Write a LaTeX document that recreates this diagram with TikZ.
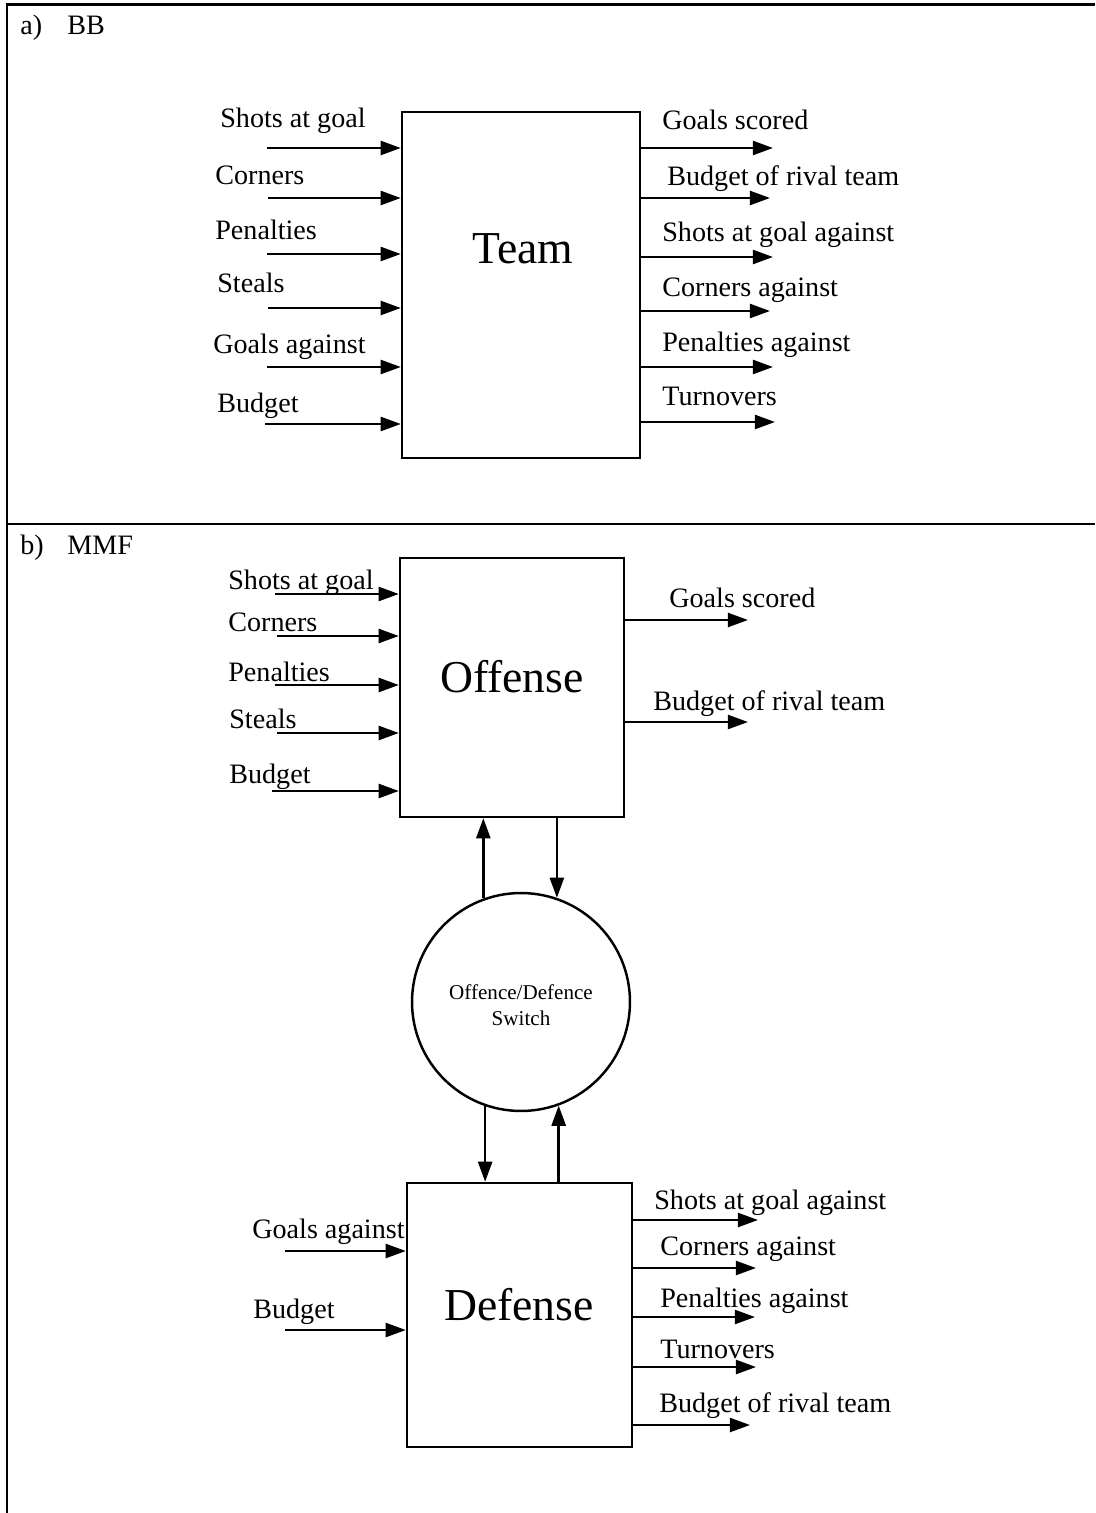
\documentclass[tikz,border=0pt]{standalone}
\usepackage{fontspec}
\setmainfont{Liberation Serif}
\usetikzlibrary{arrows.meta}

\begin{document}
\begin{tikzpicture}[
  x=0.02cm, y=-0.02cm,
  arr/.style={line width=1.4pt,-{Triangle[length=11.5pt,width=8pt]}},
  rarr/.style={line width=1.4pt,{Triangle[length=11.5pt,width=8pt]}-},
  blk/.style={draw,line width=1.4pt,inner sep=0pt},
  lbl/.style={anchor=base west,inner sep=0pt,font=\fontsize{16}{19}\selectfont},
  big/.style={anchor=base,inner sep=0pt,font=\fontsize{26}{30}\selectfont},
  frame/.style={line width=1.7pt},
]
  \useasboundingbox (0,0) rectangle (1095,1513);

  % table lines
  \draw[frame] (1095,5) -- (7,5) -- (7,1513);
  \draw[line width=1pt] (7,524) -- (1095,524);
  \draw[frame] (7,524) -- (200,524);
  \draw[frame] (907,524) -- (1095,524);

  \node[lbl] (pa) at (20,35) {a)};
  \node[lbl] (bb) at (67,35) {BB};
  \node[lbl] (pb) at (20,554) {b)};
  \node[lbl] (mmf) at (67,554) {MMF};

  % a) black box
  \node[blk,minimum width=4.76cm,minimum height=6.92cm] (team) at (521,285) {};
  \node[big] (teamtxt) at (523,264) {Team};

  \node[lbl] (ti1) at (220,128) {Shots at goal};
  \node[lbl] (ti2) at (215,185) {Corners};
  \node[lbl] (ti3) at (215,240) {Penalties};
  \node[lbl] (ti4) at (217,293) {Steals};
  \node[lbl] (ti5) at (213,354) {Goals against};
  \node[lbl] (ti6) at (217,413) {Budget};
  \draw[arr] (267,148) coordinate (ta1) -- (ta1 -| team.west);
  \draw[arr] (268,198) coordinate (ta2) -- (ta2 -| team.west);
  \draw[arr] (267,254) coordinate (ta3) -- (ta3 -| team.west);
  \draw[arr] (268,308) coordinate (ta4) -- (ta4 -| team.west);
  \draw[arr] (267,367) coordinate (ta5) -- (ta5 -| team.west);
  \draw[arr] (265,424) coordinate (ta6) -- (ta6 -| team.west);

  \node[lbl] (to1) at (662,130) {Goals scored};
  \node[lbl] (to2) at (667,186) {Budget of rival team};
  \node[lbl] (to3) at (662,242) {Shots at goal against};
  \node[lbl] (to4) at (662,297) {Corners against};
  \node[lbl] (to5) at (662,352) {Penalties against};
  \node[lbl] (to6) at (662,405) {Turnovers};
  \draw[rarr] (773,148) coordinate (tb1) -- (tb1 -| team.east);
  \draw[rarr] (770,198) coordinate (tb2) -- (tb2 -| team.east);
  \draw[rarr] (773,257) coordinate (tb3) -- (tb3 -| team.east);
  \draw[rarr] (770,311) coordinate (tb4) -- (tb4 -| team.east);
  \draw[rarr] (773,367) coordinate (tb5) -- (tb5 -| team.east);
  \draw[rarr] (775,422) coordinate (tb6) -- (tb6 -| team.east);

  % b) offense / switch / defense
  \node[blk,minimum width=4.48cm,minimum height=5.18cm] (off) at (512,687.5) {};
  \node[big] (offtxt) at (512,692) {Offense};
  \node[blk,circle,minimum size=4.36cm] (sw) at (521,1002) {};
  \node[align=center,inner sep=0pt,font=\fontsize{12}{15}\selectfont] (swtxt) at (521,1005) {Offence/Defence\\Switch};
  \node[blk,minimum width=4.5cm,minimum height=5.28cm] (def) at (519.5,1315) {};
  \node[big] (deftxt) at (519,1320) {Defense};

  \node[lbl] (oi1) at (228,589) {Shots at goal};
  \node[lbl] (oi2) at (228,631) {Corners};
  \node[lbl] (oi3) at (228,681) {Penalties};
  \node[lbl] (oi4) at (229,728) {Steals};
  \node[lbl] (oi5) at (229,783) {Budget};
  \draw[arr] (275,594) coordinate (oa1) -- (oa1 -| off.west);
  \draw[arr] (277,636) coordinate (oa2) -- (oa2 -| off.west);
  \draw[arr] (275,685) coordinate (oa3) -- (oa3 -| off.west);
  \draw[arr] (277,733) coordinate (oa4) -- (oa4 -| off.west);
  \draw[arr] (272,791) coordinate (oa5) -- (oa5 -| off.west);

  \node[lbl] (oo1) at (669,607) {Goals scored};
  \node[lbl] (oo2) at (653,710) {Budget of rival team};
  \draw[rarr] (748,620) coordinate (ob1) -- (ob1 -| off.east);
  \draw[rarr] (748,722) coordinate (ob2) -- (ob2 -| off.east);

  \draw[arr] (sw.110) -- (sw.110 |- off.south);
  \draw[arr] (off.south -| sw.71) -- (sw.71);
  \draw[arr] (sw.-109) -- (sw.-109 |- def.north);
  \draw[arr] (def.north -| sw.-70) -- (sw.-70);

  \node[lbl] (di1) at (252,1238) {Goals against};
  \node[lbl] (di2) at (253,1318) {Budget};
  \draw[arr] (285,1251) coordinate (da1) -- (da1 -| def.west);
  \draw[arr] (285,1330) coordinate (da2) -- (da2 -| def.west);

  \node[lbl] (do1) at (654,1209) {Shots at goal against};
  \node[lbl] (do2) at (660,1255) {Corners against};
  \node[lbl] (do3) at (660,1307) {Penalties against};
  \node[lbl] (do4) at (660,1358) {Turnovers};
  \node[lbl] (do5) at (659,1412) {Budget of rival team};
  \draw[rarr] (758,1220) coordinate (db1) -- (db1 -| def.east);
  \draw[rarr] (756,1268) coordinate (db2) -- (db2 -| def.east);
  \draw[rarr] (755,1317) coordinate (db3) -- (db3 -| def.east);
  \draw[rarr] (756,1367) coordinate (db4) -- (db4 -| def.east);
  \draw[rarr] (750,1425) coordinate (db5) -- (db5 -| def.east);
\end{tikzpicture}
\end{document}
